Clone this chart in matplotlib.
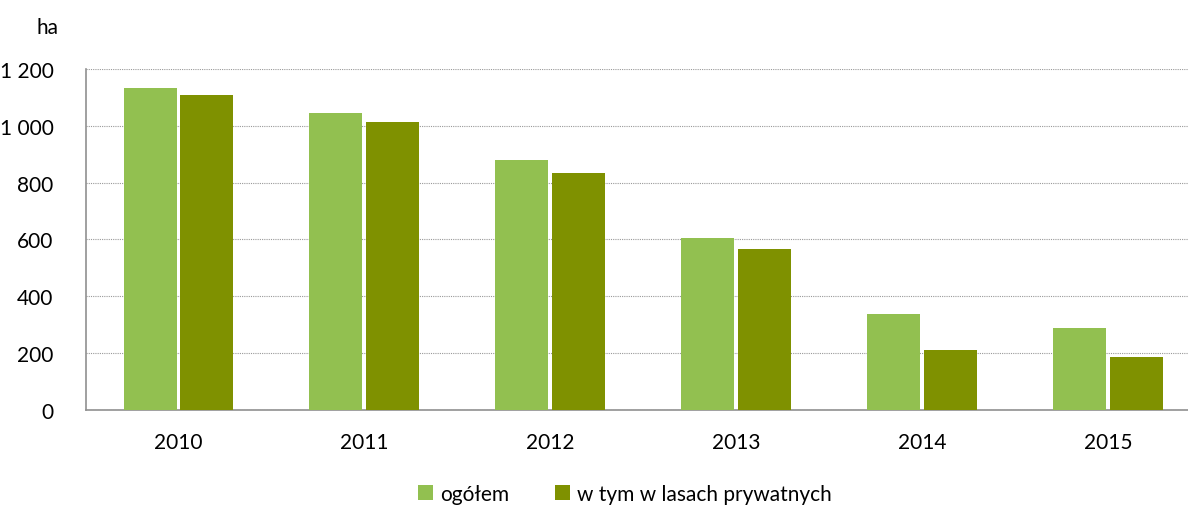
import matplotlib.pyplot as plt
import numpy as np

plt.rcParams['font.family'] = ['Lato', 'DejaVu Sans']

# dane
lata = ['2010', '2011', '2012', '2013', '2014', '2015']
ogolem = [1133, 1045, 880, 605, 338, 289]
prywatne = [1108, 1013, 834, 567, 211, 186]

fig = plt.figure(figsize=(11.88, 5.06), dpi=100)
ax = fig.add_axes([0.072, 0.188, 0.939, 0.674])

x = np.arange(len(lata))
w = 0.285
ax.bar(x - 0.153, ogolem, width=w, color='#92C050', label='ogółem', zorder=3)
ax.bar(x + 0.153, prywatne, width=w, color='#7F9100', label='w tym w lasach prywatnych', zorder=3)

ax.set_xlim(-0.5, 5.5)
ax.set_ylim(0, 1200)
ax.set_yticks(range(0, 1201, 200))
ax.set_yticklabels(['0', '200', '400', '600', '800', '1 000', '1 200'])
ax.set_xticks(x)
ax.set_xticklabels(lata)
ax.tick_params(axis='both', length=0, labelsize=15, colors='black')
ax.tick_params(axis='y', pad=23)
ax.tick_params(axis='x', pad=16)

ax.grid(axis='y', color='#999999', linestyle=(0, (1, 1)), linewidth=0.8, zorder=0)
for s in ['top', 'right']:
    ax.spines[s].set_visible(False)
for s in ['left', 'bottom']:
    ax.spines[s].set_color('#909090')
    ax.spines[s].set_linewidth(1.2)

fig.text(0.031, 0.945, 'ha', fontsize=15, va='center')

fig.legend(loc='center', bbox_to_anchor=(0.526, 0.022), ncol=2, frameon=False,
           fontsize=15, handlelength=0.7, handleheight=0.7, handletextpad=0.35,
           columnspacing=2.2)

fig.savefig('out.png', dpi=100)
